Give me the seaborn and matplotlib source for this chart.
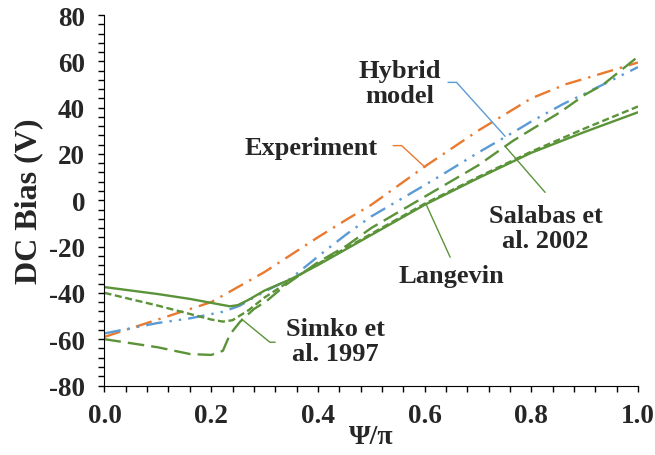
import matplotlib
matplotlib.use('Agg')
import matplotlib.pyplot as plt
import matplotlib.ticker as mticker
import pandas as pd
import seaborn as sns

# data
psi = [0.0, 0.1, 0.2, 0.3, 0.4, 0.454, 0.5, 0.6, 0.7, 0.8, 0.866, 0.9, 1.0]
experiment = [-59, -51.5, -44, -31, -16, -8.3, -2, 14.5, 30, 44, 50.2, 52.5, 59.5]

psi_hybrid = [0.0, 0.1, 0.16, 0.223, 0.254, 0.28, 0.31, 0.348, 0.41, 0.454, 0.5, 0.6, 0.629,
              0.7, 0.766, 0.8, 0.86, 0.9, 1.0]
hybrid = [-57.5, -53, -51, -48.1, -45.5, -42, -38.3, -34, -22.5, -14.6, -7, 6.5, 10.5,
          20.5, 29.3, 34, 41.6, 46, 57.5]

psi_salabas = [0.0, 0.1, 0.16, 0.2, 0.222, 0.235, 0.254, 0.28, 0.304, 0.34, 0.4, 0.454, 0.5,
               0.6, 0.7, 0.766, 0.8, 0.854, 0.9, 0.935, 1.0]
salabas = [-60, -63.5, -66.4, -66.8, -65, -58, -52.5, -47, -43.5, -36.5, -26.8, -19.6, -12,
           1.5, 15, 25.7, 30.5, 38, 45.5, 50, 62]

psi_langevin = [0.0, 0.1, 0.16, 0.2, 0.235, 0.25, 0.27, 0.3, 0.35, 0.4, 0.454, 0.5, 0.6, 0.7,
                0.8, 0.9, 1.0]
langevin = [-37.5, -40.5, -42.6, -44.3, -45.8, -45.3, -43, -39, -34, -28, -21, -15, -2, 9.5,
            20.5, 29.5, 38]

psi_simko = [0.0, 0.1, 0.16, 0.2, 0.222, 0.24, 0.27, 0.3, 0.35, 0.4, 0.45, 0.5, 0.6, 0.7,
             0.8, 0.9, 1.0]
simko = [-40, -45.5, -49.1, -51.5, -52.4, -51.8, -47.5, -42, -34.5, -27.5, -21, -14.5, -1.5,
         10, 21, 31, 40.5]

orange = '#E97A30'
blue = '#5B9BD5'
green = '#5B9339'

sns.set_style('ticks')
plt.rcParams['font.family'] = ['Liberation Serif', 'DejaVu Serif']
plt.rcParams['font.weight'] = 'bold'
plt.rcParams['axes.unicode_minus'] = False

fig = plt.figure(figsize=(6.55, 4.56), dpi=100)
ax = fig.add_axes([0.1595, 0.1524, 0.8145, 0.8125])

series = [
    (psi, experiment, orange, (7, 3, 1, 3)),
    (psi_hybrid, hybrid, blue, (7, 3, 1, 3, 1, 3)),
    (psi_salabas, salabas, green, (7, 3)),
    (psi_simko, simko, green, (3, 1.5)),
    (psi_langevin, langevin, green, None),
]
for xs, ys, col, dash in series:
    df = pd.DataFrame({'x': xs, 'y': ys})
    l = sns.lineplot(data=df, x='x', y='y', color=col, lw=1.7, ax=ax, sort=False)
    if dash is not None:
        l.lines[-1].set_dashes(dash)

# leader lines for labels
leaders = [
    ([0.644, 0.660, 0.751], [50.9, 50.9, 27.6], blue),
    ([0.541, 0.557, 0.601], [23.6, 23.6, 14.2], orange),
    ([0.751, 0.826], [23.3, 3.4], green),
    ([0.604, 0.648], [-2.3, -24.6], green),
    ([0.257, 0.310, 0.320], [-51.3, -61.3, -61.3], green),
]
for xs, ys, col in leaders:
    ax.plot(xs, ys, color=col, lw=1.0)

labels = [
    (0.553, 50.6, 'Hybrid\nmodel'),
    (0.387, 22.9, 'Experiment'),
    (0.827, -12, 'Salabas et\nal. 2002'),
    (0.651, -32.6, 'Langevin'),
    (0.432, -60.8, 'Simko et\nal. 1997'),
]
for x, y, t in labels:
    ax.text(x, y, t, ha='center', va='center', multialignment='center',
            fontsize=19, fontweight='bold', linespacing=1.15)

ax.set_xlim(0, 1)
ax.set_ylim(-80, 80)
ax.xaxis.set_major_locator(mticker.MultipleLocator(0.2))
ax.xaxis.set_minor_locator(mticker.MultipleLocator(0.04))
ax.yaxis.set_major_locator(mticker.MultipleLocator(20))
ax.yaxis.set_minor_locator(mticker.MultipleLocator(4))
ax.xaxis.set_major_formatter(mticker.FormatStrFormatter('%.1f'))
ax.yaxis.set_major_formatter(mticker.FormatStrFormatter('%d'))
ax.tick_params(which='both', direction='out', length=4.5, width=1, color='black')
ax.tick_params(labelsize=19.5, pad=9.5)
ax.tick_params(axis='x', pad=8)
for lab in ax.get_xticklabels() + ax.get_yticklabels():
    lab.set_fontweight('bold')

sns.despine(ax=ax)
ax.spines['left'].set_color('black')
ax.spines['bottom'].set_color('black')
ax.set_xlabel('Ψ/π', fontsize=20, fontweight='bold', labelpad=-3)
ax.set_ylabel('DC Bias (V)', fontsize=23, fontweight='bold', labelpad=4)

fig.savefig('out.png', dpi=100)
